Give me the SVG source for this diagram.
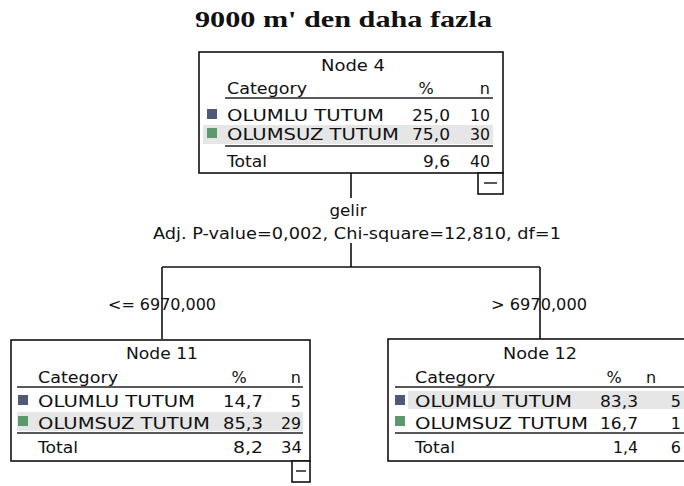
<svg xmlns="http://www.w3.org/2000/svg" width="684" height="486" viewBox="0 0 684 486">
<style>
.t{font-family:"DejaVu Sans","Liberation Sans",sans-serif;font-size:16px;fill:#111}
.title{font-family:"Liberation Serif","Times New Roman",serif;font-size:24px;font-weight:bold;fill:#111}
.box{fill:#fff;stroke:#111;stroke-width:1.6}
.rule{stroke:#222;stroke-width:1.5}
.hl{fill:#e6e6e6}
.blue{fill:#4f5a78}
.green{fill:#5c9a6e}
.conn{stroke:#111;stroke-width:1.6;fill:none}
.e{text-anchor:end}
.m{text-anchor:middle}
</style>
<rect width="684" height="486" fill="#fff"/>
<text class="title" x="195" y="27" textLength="297" lengthAdjust="spacingAndGlyphs">9000 m' den daha fazla</text>

<g id="connectors">
<path class="conn" d="M351,173 V198 M351,243 V267 M162,267 H540 M162,267 V339 M540,267 V339"/>
<text class="t m" x="348" y="216" textLength="37" lengthAdjust="spacingAndGlyphs">gelir</text>
<text class="t" x="153" y="239" textLength="408" lengthAdjust="spacingAndGlyphs">Adj. P-value=0,002, Chi-square=12,810, df=1</text>
<text class="t" x="108" y="310" textLength="108" lengthAdjust="spacingAndGlyphs">&lt;= 6970,000</text>
<text class="t" x="491" y="310" textLength="96" lengthAdjust="spacingAndGlyphs">&gt; 6970,000</text>
</g>

<g id="node4">
<rect class="box" x="199" y="52" width="304" height="121"/>
<rect class="hl" x="203" y="125" width="290" height="19"/>
<text class="t" x="321" y="71" textLength="64" lengthAdjust="spacingAndGlyphs">Node 4</text>
<text class="t" x="227" y="94" textLength="80" lengthAdjust="spacingAndGlyphs">Category</text>
<text class="t m" x="426" y="94">%</text>
<text class="t e" x="490" y="94">n</text>
<line class="rule" x1="225" y1="98" x2="493" y2="98"/>
<rect class="blue" x="207" y="109" width="10" height="10"/>
<text class="t" x="227" y="121" textLength="157" lengthAdjust="spacingAndGlyphs">OLUMLU TUTUM</text>
<text class="t e" x="450" y="121" textLength="38" lengthAdjust="spacingAndGlyphs">25,0</text>
<text class="t e" x="490" y="121" textLength="20" lengthAdjust="spacingAndGlyphs">10</text>
<rect class="green" x="207" y="128" width="10" height="10"/>
<text class="t" x="227" y="140" textLength="172" lengthAdjust="spacingAndGlyphs">OLUMSUZ TUTUM</text>
<text class="t e" x="450" y="140" textLength="38" lengthAdjust="spacingAndGlyphs">75,0</text>
<text class="t e" x="490" y="140" textLength="20" lengthAdjust="spacingAndGlyphs">30</text>
<line class="rule" x1="225" y1="146" x2="493" y2="146"/>
<text class="t" x="227" y="167" textLength="40" lengthAdjust="spacingAndGlyphs">Total</text>
<text class="t e" x="450" y="167" textLength="27" lengthAdjust="spacingAndGlyphs">9,6</text>
<text class="t e" x="490" y="167" textLength="20" lengthAdjust="spacingAndGlyphs">40</text>
<rect class="box" x="478" y="173" width="25" height="21"/>
<line class="rule" x1="484" y1="183" x2="497" y2="183"/>
</g>

<g id="node11">
<rect class="box" x="11" y="340" width="299" height="121"/>
<rect class="hl" x="17" y="412" width="286" height="19"/>
<text class="t" x="126" y="359" textLength="72" lengthAdjust="spacingAndGlyphs">Node 11</text>
<text class="t" x="38" y="383" textLength="80" lengthAdjust="spacingAndGlyphs">Category</text>
<text class="t m" x="239" y="383">%</text>
<text class="t e" x="301" y="383">n</text>
<line class="rule" x1="17" y1="387" x2="303" y2="387"/>
<rect class="blue" x="18" y="395" width="10" height="10"/>
<text class="t" x="38" y="407" textLength="157" lengthAdjust="spacingAndGlyphs">OLUMLU TUTUM</text>
<text class="t e" x="263" y="407" textLength="40" lengthAdjust="spacingAndGlyphs">14,7</text>
<text class="t e" x="301" y="407">5</text>
<rect class="green" x="18" y="416" width="10" height="10"/>
<text class="t" x="38" y="429" textLength="172" lengthAdjust="spacingAndGlyphs">OLUMSUZ TUTUM</text>
<text class="t e" x="263" y="429" textLength="40" lengthAdjust="spacingAndGlyphs">85,3</text>
<text class="t e" x="301" y="429" textLength="20" lengthAdjust="spacingAndGlyphs">29</text>
<line class="rule" x1="17" y1="433" x2="303" y2="433"/>
<text class="t" x="38" y="453" textLength="40" lengthAdjust="spacingAndGlyphs">Total</text>
<text class="t e" x="263" y="453" textLength="30" lengthAdjust="spacingAndGlyphs">8,2</text>
<text class="t e" x="302" y="453" textLength="21" lengthAdjust="spacingAndGlyphs">34</text>
<rect class="box" x="292" y="461" width="18" height="21"/>
<line class="rule" x1="296" y1="471" x2="306" y2="471"/>
</g>

<g id="node12">
<rect class="box" x="388" y="339" width="302" height="122"/>
<rect class="hl" x="408" y="391" width="276" height="18"/>
<text class="t" x="503" y="359" textLength="74" lengthAdjust="spacingAndGlyphs">Node 12</text>
<text class="t" x="415" y="383" textLength="80" lengthAdjust="spacingAndGlyphs">Category</text>
<text class="t m" x="614" y="383">%</text>
<text class="t m" x="651" y="383">n</text>
<line class="rule" x1="395" y1="387" x2="684" y2="387"/>
<rect class="blue" x="395" y="395" width="10" height="10"/>
<text class="t" x="415" y="407" textLength="157" lengthAdjust="spacingAndGlyphs">OLUMLU TUTUM</text>
<text class="t e" x="638" y="407" textLength="38" lengthAdjust="spacingAndGlyphs">83,3</text>
<text class="t e" x="681" y="407">5</text>
<rect class="green" x="395" y="416" width="10" height="10"/>
<text class="t" x="415" y="429" textLength="173" lengthAdjust="spacingAndGlyphs">OLUMSUZ TUTUM</text>
<text class="t e" x="638" y="429" textLength="38" lengthAdjust="spacingAndGlyphs">16,7</text>
<text class="t e" x="681" y="429">1</text>
<line class="rule" x1="395" y1="433" x2="684" y2="433"/>
<text class="t" x="415" y="453" textLength="40" lengthAdjust="spacingAndGlyphs">Total</text>
<text class="t e" x="638" y="453" textLength="25" lengthAdjust="spacingAndGlyphs">1,4</text>
<text class="t e" x="681" y="453">6</text>
</g>
</svg>
